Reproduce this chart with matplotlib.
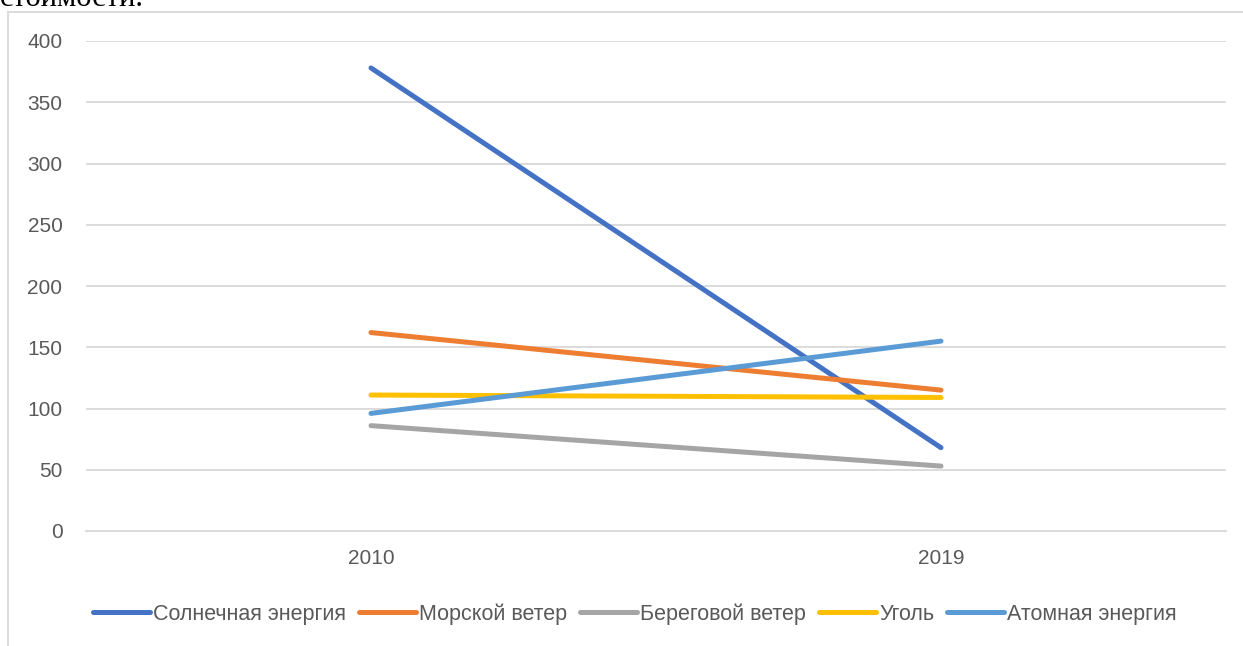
import matplotlib.pyplot as plt
from matplotlib.lines import Line2D

years = ['2010', '2019']
solar = [378, 68]
offshore_wind = [162, 115]
onshore_wind = [86, 53]
coal = [111, 109]
nuclear = [96, 155]

series_names = ['Солнечная энергия', 'Морской ветер', 'Береговой ветер', 'Уголь', 'Атомная энергия']
series_values = [solar, offshore_wind, onshore_wind, coal, nuclear]
colors = ['#4472C4', '#ED7D31', '#A5A5A5', '#FFC000', '#5B9BD5']

plt.rcParams['font.family'] = ['Liberation Sans', 'DejaVu Sans']

fig = plt.figure(figsize=(12.43, 6.46), dpi=100)
ax = fig.add_axes([86 / 1243, 1 - 531 / 646, (1226 - 86) / 1243, (531 - 41) / 646])

x = list(range(len(years)))
for name, vals, c in zip(series_names, series_values, colors):
    ax.plot(x, vals, color=c, linewidth=3.6, solid_capstyle='round', label=name, zorder=3)

ax.set_xlim(-0.5, len(years) - 0.5)
ax.set_ylim(0, 400)
ax.set_yticks(range(0, 401, 50))
ax.set_xticks(x)
ax.set_xticklabels(years)
ax.grid(axis='y', color='#d9d9d9', linewidth=1.3)
ax.set_axisbelow(True)
for s in ax.spines.values():
    s.set_visible(False)
ax.spines['bottom'].set_visible(True)
ax.spines['bottom'].set_color('#d9d9d9')
ax.spines['bottom'].set_linewidth(1.3)
ax.tick_params(length=0, labelsize=15, labelcolor='#595959')
ax.tick_params(axis='y', pad=17)
ax.tick_params(axis='x', pad=13)

handles = [Line2D([], [], color=c, linewidth=3.6, solid_capstyle='round') for c in colors]
fig.legend(handles, series_names, loc='center', bbox_to_anchor=(635 / 1243, 1 - 614 / 646),
           ncol=5, frameon=False, fontsize=15.5, handlelength=2.65, handletextpad=0.14,
           columnspacing=0.6, labelcolor='#595959')

# chart frame (left and top edges)
fig.add_artist(Line2D([8 / 1243, 8 / 1243], [0, 1 - 12 / 646], color='#d9d9d9', linewidth=1.3,
                      transform=fig.transFigure))
fig.add_artist(Line2D([8 / 1243, 1], [1 - 12 / 646, 1 - 12 / 646], color='#d9d9d9', linewidth=1.3,
                      transform=fig.transFigure))

fig.text(0.0, 1 - 6 / 646, 'стоимости.', family='Liberation Serif', fontsize=22,
         va='baseline', ha='left', color='black')

fig.savefig('out.png', dpi=100)
